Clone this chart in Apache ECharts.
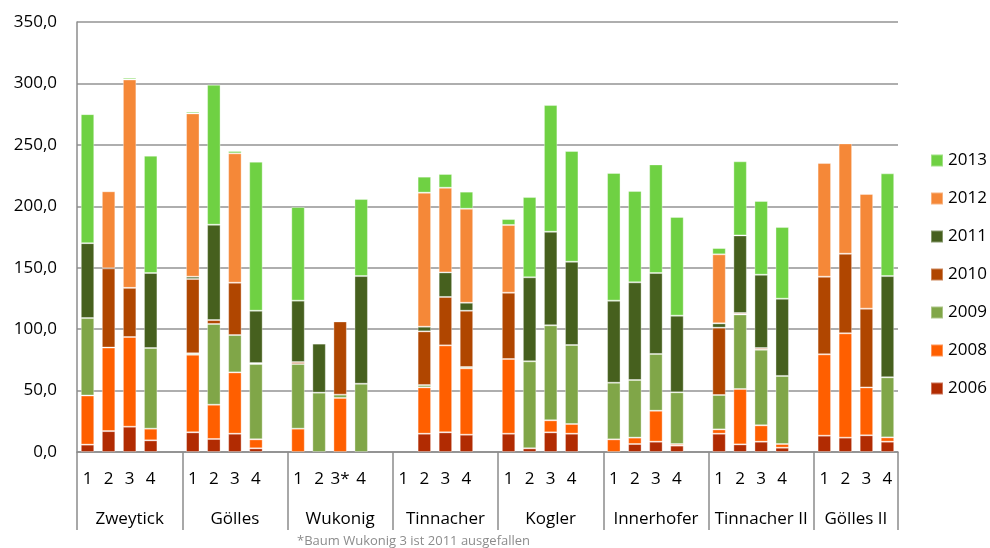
<!DOCTYPE html>
<html>
<head>
<meta charset="utf-8">
<script src="https://cdn.jsdelivr.net/npm/echarts@6/dist/echarts.min.js"></script>
<style>
  html, body { margin: 0; padding: 0; background: #fff; }
  #chart { width: 990px; height: 548px; }
</style>
</head>
<body>
<div id="chart"></div>
<script>
// Gruppen (Standorte) und Baumnummern
const groups = ['Zweytick', 'Gölles', 'Wukonig', 'Tinnacher', 'Kogler', 'Innerhofer', 'Tinnacher II', 'Gölles II']
const trees = [
  '1', '2', '3', '4',
  '1', '2', '3', '4',
  '1', '2', '3*', '4',
  '1', '2', '3', '4',
  '1', '2', '3', '4',
  '1', '2', '3', '4',
  '1', '2', '3', '4',
  '1', '2', '3', '4'
]
const years = ['2006', '2008', '2009', '2010', '2011', '2012', '2013']
const legendOrder = ['2013', '2012', '2011', '2010', '2009', '2008', '2006']
const yTicks = [0, 50, 100, 150, 200, 250, 300, 350]

// Werte je Jahr, 32 Bäume (null = kein Wert)
const v2006 = [6, 17, 20.6, 9.5, 16, 10.6, 14.9, 3, 0, 0, 0, 0, null, 14.9, 16, 14.1, 14.9, 3, 16, 14.9, 0, 6.5, 8.4, 5.2, 14.9, 6.2, 8.4, 3.5, 13.3, 11.7, 13.6, 8.4]
const v2008 = [40, 68, 73, 9.5, 63.2, 27.9, 49.9, 7.3, 19, 0, 44, 0, null, 37.7, 70.8, 54, 60.8, 0, 9.8, 7.9, 10.3, 5.2, 25.2, 1.3, 3.5, 45.1, 13.3, 3, 66.2, 84.9, 39, 3.5]
const v2009 = [63, 0, 0, 65.6, 1.1, 65.7, 30.4, 61.3, 52.6, 48.3, 2.7, 55.6, null, 1.9, 0, 1.1, 0, 70.8, 77.3, 64.3, 46.1, 46.9, 46.2, 42.1, 28, 60.7, 61.6, 55.4, 0, 0, 0, 48.9]
const v2010 = [0, 64.5, 40, 0, 60.5, 3.2, 42.6, 0.8, 1.6, 0, 59.6, 0, null, 43.7, 39.4, 45.8, 54, 0, 0, 0, 0, 0, 0, 0, 54.8, 1.1, 1.3, 0, 63.2, 64.8, 64.1, 0]
const v2011 = [61, 0, 0, 61.1, 1.9, 77.6, 0, 42.6, 50, 39.9, 0, 87.6, null, 3.8, 20, 6.5, 0, 68.4, 76.2, 67.8, 66.8, 79.5, 65.9, 62.4, 3.5, 63.2, 59.7, 62.9, 0, 0, 0, 82.4]
const v2012 = [0, 62.7, 169.6, 0, 132.9, 0, 105.3, 0, 0, 0, 0, 0, null, 109.1, 68.9, 76.5, 55.1, 0, 0, 0, 0, 0, 0, 0, 56.2, 0, 0, 0, 92.5, 89.8, 93.3, 0]
const v2013 = [105, 0.5, 1.4, 95.5, 1.4, 114, 1.9, 121.3, 76.2, 0, 0, 62.7, null, 13, 11.2, 13.9, 4.8, 65.3, 103.1, 90.1, 103.9, 74.3, 88.4, 80.3, 5.1, 60.3, 60, 58.3, 0.8, 0.8, 0, 83.6]

const values = [v2006, v2008, v2009, v2010, v2011, v2012, v2013]
const colors = ['#b12b02', '#ff5f00', '#80a648', '#b04600', '#46601e', '#f58838', '#6fd143']

const FONT = '"Open Sans", "Noto Sans", sans-serif'

// Kategorien: 4 Bäume pro Gruppe, danach eine leere Lücke (außer nach der letzten Gruppe)
const slots = []
const slotTree = []
groups.forEach((g, gi) => {
  for (let i = 0; i < 4; i++) {
    slots.push(trees[gi * 4 + i])
    slotTree.push(gi * 4 + i)
  }
  if (gi < groups.length - 1) {
    slots.push('')
    slotTree.push(-1)
  }
})
const slotIds = slots.map((s, i) => 'c' + i)

const toSlots = (arr) => slotTree.map(t => {
  if (t < 0) return '-'
  const v = arr[t]
  return v ? v : '-'
})

const chart = echarts.init(document.getElementById('chart'))

const series = years.map((y, i) => ({
  name: y,
  type: 'bar',
  stack: 'total',
  xAxisIndex: 0,
  barWidth: '64%',
  data: toSlots(values[i]),
  itemStyle: {
    color: colors[i],
    borderColor: 'rgba(255,255,255,0.35)',
    borderWidth: 1
  },
  emphasis: { disabled: true }
}))

const option = {
  animation: false,
  textStyle: { fontFamily: FONT },
  title: {
    text: '*Baum Wukonig 3 ist 2011 ausgefallen',
    left: 297,
    top: 535,
    padding: 0,
    textStyle: { fontFamily: FONT, fontSize: 13, fontWeight: 'normal', color: '#8c8c8c' }
  },
  legend: {
    data: legendOrder,
    orient: 'vertical',
    left: 930,
    top: 152,
    padding: 0,
    itemWidth: 12,
    itemHeight: 12,
    itemGap: 21,
    itemTextGap: 4,
    icon: 'rect',
    selectedMode: false,
    textStyle: { fontFamily: FONT, fontSize: 17, color: '#000' }
  },
  grid: {
    left: 77,
    right: 92,
    top: 22,
    bottom: 96
  },
  xAxis: [
    {
      type: 'category',
      data: slotIds,
      axisLine: { show: true, lineStyle: { color: '#8c8c8c', width: 1.5 } },
      axisTick: {
        show: true,
        inside: false,
        length: 78,
        interval: (idx) => idx % 5 === 0,
        lineStyle: { color: '#8c8c8c', width: 1.5 }
      },
      axisLabel: {
        interval: 0,
        margin: 17,
        fontFamily: FONT,
        fontSize: 17,
        lineHeight: 20,
        color: '#000',
        formatter: (val, idx) => slots[idx]
      },
      splitLine: { show: false }
    },
    {
      type: 'category',
      data: slotIds,
      position: 'bottom',
      axisLine: { show: false },
      axisTick: { show: false },
      axisLabel: {
        interval: 0,
        margin: 57,
        fontFamily: FONT,
        fontSize: 17,
        lineHeight: 20,
        color: '#000',
        formatter: (val, idx) => {
          if (idx === 36) return '{r|' + groups[7] + '}'
          if (idx % 5 === 2 && idx < 35) return groups[(idx - 2) / 5]
          return ''
        },
        rich: {
          r: { fontFamily: FONT, fontSize: 17, lineHeight: 20, color: '#000', padding: [0, 0, 0, 21] }
        }
      },
      splitLine: { show: false }
    }
  ],
  yAxis: {
    type: 'value',
    min: yTicks[0],
    max: yTicks[yTicks.length - 1],
    interval: 50,
    axisLine: { show: true, lineStyle: { color: '#8c8c8c', width: 1.5 } },
    axisTick: { show: false },
    axisLabel: {
      margin: 20,
      fontFamily: FONT,
      fontSize: 17,
      color: '#000',
      formatter: (v) => v.toFixed(1).replace('.', ',')
    },
    splitLine: { lineStyle: { color: '#939393', width: 1.5 } }
  },
  series: series
}

chart.setOption(option)
</script>
</body>
</html>
